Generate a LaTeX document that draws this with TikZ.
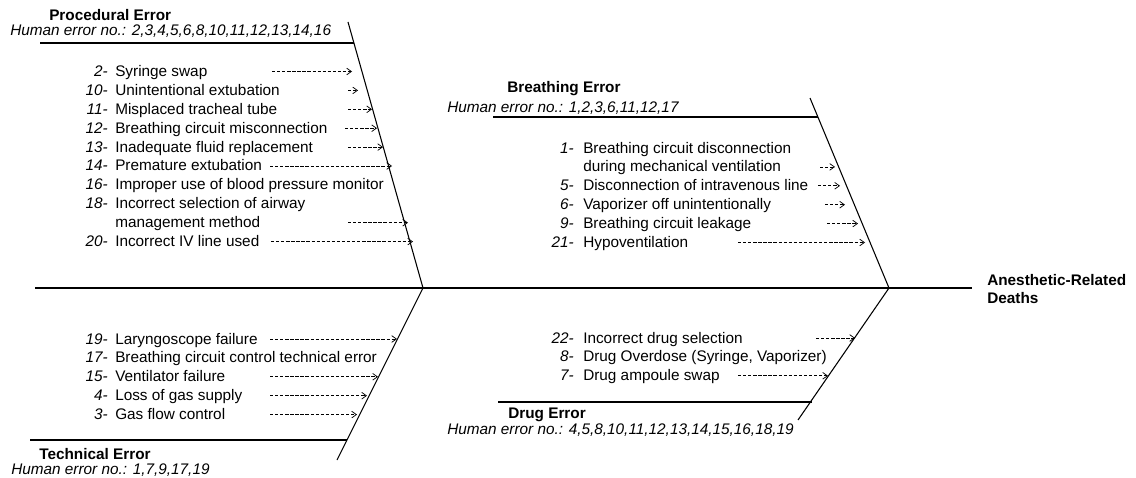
\documentclass[tikz,border=0pt]{standalone}
\usepackage{fontspec}
\setmainfont{Liberation Sans}
\usetikzlibrary{arrows.meta}
\tikzset{
  fnt/.style={font=\fontsize{11.5}{14}\selectfont},
  lbl/.style={fnt,inner sep=0pt,anchor=base west},
  num/.style={fnt,font=\fontsize{11.5}{14}\selectfont\itshape,inner sep=0pt,anchor=base east},
  ttl/.style={fnt,font=\fontsize{11.5}{14}\selectfont\bfseries,inner sep=0pt,anchor=base west},
  hum/.style={fnt,font=\fontsize{11.5}{14}\selectfont\itshape,inner sep=0pt,anchor=base west},
  bone/.style={line width=0.8pt},
  cause/.style={line width=0.5pt,dash pattern=on 2.5pt off 1.3pt,-{Straight Barb[length=3.5pt,width=5pt,line width=0.55pt]}}
}
\begin{document}
\begin{tikzpicture}[x=0.75pt,y=-0.75pt]
\useasboundingbox (0,0) rectangle (1136,478);
% spine
\coordinate (sp0) at (35,288);
\coordinate (sp1) at (972,288);
\coordinate (jA) at (423,288);
\coordinate (jB) at (889,288);
\draw[bone] (sp0) -- (sp1);
\node[ttl] (eff1) at (987,285) {Anesthetic-Related};
\node[ttl] (eff2) at (987,303) {Deaths};

% ---------- Procedural ----------
\coordinate (pt) at (348,22);
\coordinate (ph0) at (40,43);
\coordinate (ph1) at (354,43);
\draw[bone] (pt) -- (jA);
\draw[bone] (ph0) -- (ph1);
\node[ttl] (ptitle) at (49,21) {Procedural Error};
\node[hum] (phum) at (10,36) {Human error no.: 2,3,4,5,6,8,10,11,12,13,14,16};

\node[num] (p1n) at (108,76.5) {2-};   \node[lbl] (p1) at (115,76.5) {Syringe swap};
\node[num] (p2n) at (108,95.4) {10-};  \node[lbl] (p2) at (115,95.4) {Unintentional extubation};
\node[num] (p3n) at (108,114.3) {11-}; \node[lbl] (p3) at (115,114.3) {Misplaced tracheal tube};
\node[num] (p4n) at (108,133.2) {12-}; \node[lbl] (p4) at (115,133.2) {Breathing circuit misconnection};
\node[num] (p5n) at (108,152.1) {13-}; \node[lbl] (p5) at (115,152.1) {Inadequate fluid replacement};
\node[num] (p6n) at (108,171.0) {14-}; \node[lbl] (p6) at (115,171.0) {Premature extubation};
\node[num] (p7n) at (108,189.9) {16-}; \node[lbl] (p7) at (115,189.9) {Improper use of blood pressure monitor};
\node[num] (p8n) at (108,208.8) {18-}; \node[lbl] (p8) at (115,208.8) {Incorrect selection of airway};
\node[lbl] (p8b) at (115,227.7) {management method};
\node[num] (p9n) at (108,246.6) {20-}; \node[lbl] (p9) at (115,246.6) {Incorrect IV line used};

\coordinate (pa1) at (272,71.5);  \coordinate (pb1) at (352,71.5);
\coordinate (pa2) at (348,90.4);  \coordinate (pb2) at (358,90.4);
\coordinate (pa3) at (348,109.3); \coordinate (pb3) at (372,109.3);
\coordinate (pa4) at (345,128.2); \coordinate (pb4) at (377,128.2);
\coordinate (pa5) at (348,147.1); \coordinate (pb5) at (383,147.1);
\coordinate (pa6) at (270,166.0); \coordinate (pb6) at (392,166.0);
\coordinate (pa8) at (348,222.7); \coordinate (pb8) at (408,222.7);
\coordinate (pa9) at (271,241.6); \coordinate (pb9) at (413,241.6);
\foreach \i in {1,2,3,4,5,6,8,9} {\draw[cause] (pa\i) -- (pb\i);}

% ---------- Breathing ----------
\coordinate (bt) at (810,98);
\coordinate (bh0) at (493,117);
\coordinate (bh1) at (818,117);
\draw[bone] (bt) -- (jB);
\draw[bone] (bh0) -- (bh1);
\node[ttl] (btitle) at (507,93) {Breathing Error};
\node[hum] (bhum) at (447,113) {Human error no.: 1,2,3,6,11,12,17};

\node[num] (b1n) at (574,153.0) {1-}; \node[lbl] (b1) at (583,153.0) {Breathing circuit disconnection};
\node[lbl] (b1b) at (583,171.9) {during mechanical ventilation};
\node[num] (b2n) at (574,190.8) {5-}; \node[lbl] (b2) at (583,190.8) {Disconnection of intravenous line};
\node[num] (b3n) at (574,209.7) {6-}; \node[lbl] (b3) at (583,209.7) {Vaporizer off unintentionally};
\node[num] (b4n) at (574,228.6) {9-}; \node[lbl] (b4) at (583,228.6) {Breathing circuit leakage};
\node[num] (b5n) at (574,247.5) {21-}; \node[lbl] (b5) at (583,247.5) {Hypoventilation};

\coordinate (ba1) at (820,166.9); \coordinate (bb1) at (835,166.9);
\coordinate (ba2) at (818,185.8); \coordinate (bb2) at (840,185.8);
\coordinate (ba3) at (825,204.7); \coordinate (bb3) at (845,204.7);
\coordinate (ba4) at (827,223.6); \coordinate (bb4) at (858,223.6);
\coordinate (ba5) at (738,242.5); \coordinate (bb5) at (865,242.5);
\foreach \i in {1,...,5} {\draw[cause] (ba\i) -- (bb\i);}

% ---------- Technical ----------
\coordinate (tt) at (337,460);
\coordinate (th0) at (30,440);
\coordinate (th1) at (347,440);
\draw[bone] (jA) -- (tt);
\draw[bone] (th0) -- (th1);
\node[ttl] (ttitle) at (39,459) {Technical Error};
\node[hum] (thum) at (11,474) {Human error no.: 1,7,9,17,19};

\node[num] (t1n) at (108,344.0) {19-}; \node[lbl] (t1) at (115,344.0) {Laryngoscope failure};
\node[num] (t2n) at (108,362.9) {17-}; \node[lbl] (t2) at (115,362.9) {Breathing circuit control technical error};
\node[num] (t3n) at (108,381.8) {15-}; \node[lbl] (t3) at (115,381.8) {Ventilator failure};
\node[num] (t4n) at (108,400.7) {4-};  \node[lbl] (t4) at (115,400.7) {Loss of gas supply};
\node[num] (t5n) at (108,419.6) {3-};  \node[lbl] (t5) at (115,419.6) {Gas flow control};

\coordinate (ta1) at (270,339.0); \coordinate (tb1) at (397,339.0);
\coordinate (ta3) at (270,376.8); \coordinate (tb3) at (378,376.8);
\coordinate (ta4) at (270,395.7); \coordinate (tb4) at (367,395.7);
\coordinate (ta5) at (270,414.6); \coordinate (tb5) at (357,414.6);
\foreach \i in {1,3,4,5} {\draw[cause] (ta\i) -- (tb\i);}

% ---------- Drug ----------
\coordinate (dt) at (798,420);
\coordinate (dh0) at (498,402);
\coordinate (dh1) at (812,402);
\draw[bone] (jB) -- (dt);
\draw[bone] (dh0) -- (dh1);
\node[ttl] (dtitle) at (508,418) {Drug Error};
\node[hum] (dhum) at (447,434) {Human error no.: 4,5,8,10,11,12,13,14,15,16,18,19};

\node[num] (d1n) at (574,343.0) {22-}; \node[lbl] (d1) at (583,343.0) {Incorrect drug selection};
\node[num] (d2n) at (574,361.9) {8-};  \node[lbl] (d2) at (583,361.9) {Drug Overdose (Syringe, Vaporizer)};
\node[num] (d3n) at (574,380.8) {7-};  \node[lbl] (d3) at (583,380.8) {Drug ampoule swap};

\coordinate (da1) at (816,338.0); \coordinate (db1) at (855,338.0);
\coordinate (da3) at (738,375.8); \coordinate (db3) at (828,375.8);
\foreach \i in {1,3} {\draw[cause] (da\i) -- (db\i);}
\end{tikzpicture}
\end{document}
